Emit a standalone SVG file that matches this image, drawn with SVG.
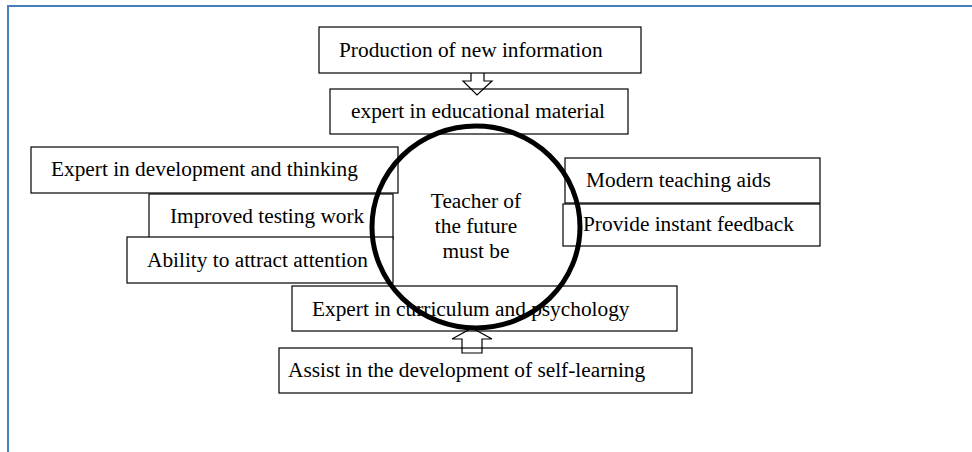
<svg xmlns="http://www.w3.org/2000/svg" width="972" height="452" viewBox="0 0 972 452">
<style>
  .box { fill: #ffffff; stroke: #000000; stroke-width: 1.2; }
  .lbl { font-family: "Liberation Serif", "Times New Roman", serif; font-size: 21.33px; fill: #000000; }
  .arrow { fill: none; stroke: #000000; stroke-width: 1.2; stroke-linejoin: miter; }
  .frame { fill: none; stroke: #4a7ebb; stroke-width: 2; }
</style>
<rect width="972" height="452" fill="#ffffff"/>
<path class="frame" d="M8,452 L8,6 L972,6"/>

<g id="node-production">
  <rect class="box" x="319" y="27" width="322" height="46"/>
  <text class="lbl" x="339" y="57">Production of new information</text>
</g>
<g id="node-educational">
  <rect class="box" x="330" y="89" width="298" height="45"/>
  <text class="lbl" x="351" y="118">expert in educational material</text>
</g>
<g id="node-development">
  <rect class="box" x="31" y="147" width="367" height="46"/>
  <text class="lbl" x="51" y="176">Expert in development and thinking</text>
</g>
<g id="node-testing">
  <rect class="box" x="149" y="194" width="244" height="45"/>
  <text class="lbl" x="170" y="223">Improved testing work</text>
</g>
<g id="node-attention">
  <rect class="box" x="127" y="237" width="266" height="46"/>
  <text class="lbl" x="147" y="267">Ability to attract attention</text>
</g>
<g id="node-aids">
  <rect class="box" x="565" y="158" width="255" height="45"/>
  <text class="lbl" x="586" y="187">Modern teaching aids</text>
</g>
<g id="node-feedback">
  <rect class="box" x="563" y="204" width="257" height="42"/>
  <text class="lbl" x="583" y="231">Provide instant feedback</text>
</g>
<g id="node-curriculum">
  <rect class="box" x="292" y="286" width="385" height="45"/>
  <text class="lbl" x="312" y="316">Expert in curriculum and psychology</text>
</g>
<g id="node-selflearning">
  <rect class="box" x="279" y="348" width="413" height="45"/>
  <text class="lbl" x="288" y="377">Assist in the development of self-learning</text>
</g>

<g id="connectors">
  <path class="arrow" d="M471,73 L471,81 L463,81 L477,95 L492,81 L484,81 L484,73"/>
  <path class="arrow" d="M462,353 L462,339 L452,339 L472,328 L492,339 L482,339 L482,353 Z"/>
</g>

<g id="node-center">
  <ellipse cx="476" cy="227" rx="104" ry="101" fill="none" stroke="#000000" stroke-width="5"/>
  <text class="lbl" x="476" y="208" text-anchor="middle">Teacher of</text>
  <text class="lbl" x="476" y="233" text-anchor="middle">the future</text>
  <text class="lbl" x="476" y="258" text-anchor="middle">must be</text>
</g>
</svg>
